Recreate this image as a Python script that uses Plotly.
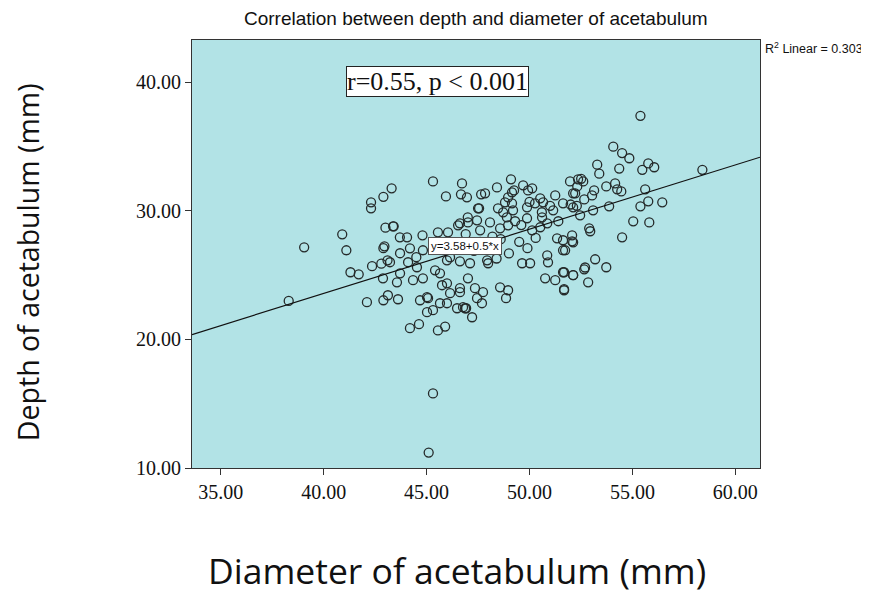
import plotly.graph_objects as go

# Scatter data (diameter mm, depth mm)
diameter = [38.3, 39.05, 40.9, 41.1, 41.3, 41.7, 42.1, 42.35, 42.8, 43.1,
            42.9, 42.95, 42.9, 43.0, 42.3, 42.3, 42.9, 43.3, 43.4, 43.7,
            44.05, 44.8, 45.55, 46.04, 46.62, 47.01, 47.6, 48.08, 48.57, 48.96,
            49.3, 50.13, 50.52, 50.86, 51.34, 51.63, 52.07, 52.12, 51.63, 50.86,
            50.9, 49.64, 50.03, 50.76, 51.25, 51.63, 52.12, 51.68, 43.22, 43.71,
            44.1, 44.19, 44.82, 44.34, 44.53, 44.82, 43.71, 43.56, 45.41, 45.65,
            45.75, 45.99, 45.99, 46.14, 46.62, 46.62, 47.11, 47.01, 47.35, 47.45,
            47.74, 47.99, 47.94, 46.92, 46.77, 47.21, 47.69, 48.57, 48.96, 48.86,
            44.19, 44.63, 45.02, 45.31, 45.07, 45.65, 45.99, 46.14, 46.48, 46.87,
            46.62, 44.68, 45.02, 43.12, 43.61, 42.88, 45.55, 45.9, 45.31, 45.31,
            45.1, 46.72, 45.94, 46.67, 46.96, 47.65, 47.84, 48.42, 49.1, 49.15,
            49.25, 48.96, 49.69, 50.13, 49.93, 50.52, 51.25, 51.97, 52.36, 52.12,
            47.55, 47.0, 48.47, 48.72, 48.81, 49.15, 49.2, 49.88, 50.27, 50.66,
            51.15, 51.63, 52.12, 49.88, 50.61, 47.45, 47.5, 43.37, 46.53, 55.39,
            54.07, 54.5, 54.85, 53.29, 54.36, 55.77, 56.06, 55.48, 58.4, 53.39,
            52.51, 52.61, 54.16, 53.73, 54.26, 54.46, 55.62, 53.14, 53.04, 52.22,
            52.32, 52.66, 52.0, 52.3, 53.87, 55.39, 55.77, 56.45, 53.09, 55.04,
            55.82, 52.46, 52.9, 52.95, 54.5, 52.07, 51.73, 53.19, 53.73, 52.66,
            52.7, 51.68, 52.12, 52.85, 51.68, 48.3, 48.6, 49.5, 49.9, 50.3,
            48.2, 47.6, 46.4, 45.3, 44.5, 49.0, 48.4, 50.6, 51.0, 51.4,
            50.0, 49.6, 48.9, 46.9, 47.3]
depth = [23.0, 27.17, 28.18, 26.94, 25.23, 25.07, 22.9, 25.7, 25.9, 26.16,
         27.1, 27.25, 23.05, 28.7, 30.67, 30.2, 31.1, 31.76, 28.8, 27.95,
         27.95, 28.1, 28.34, 28.34, 29.04, 29.11, 28.49, 29.11, 28.65, 28.88,
         29.2, 28.49, 28.73, 29.04, 27.87, 27.72, 28.1, 27.56, 26.94, 26.55,
         26.0, 25.93, 25.93, 24.76, 24.61, 25.23, 25.0, 23.83, 26.01, 26.71,
         26.01, 27.09, 26.94, 24.61, 25.62, 24.76, 25.15, 24.45, 25.38, 25.15,
         24.22, 24.37, 26.16, 26.39, 23.99, 26.08, 25.93, 24.76, 23.99, 23.21,
         23.68, 25.93, 26.16, 22.43, 22.51, 21.73, 22.82, 24.06, 23.83, 23.21,
         20.88, 21.19, 22.12, 22.28, 23.21, 22.82, 22.82, 23.6, 22.43, 22.43,
         23.68, 23.05, 23.29, 23.44, 23.13, 24.76, 20.7, 21.0, 32.3, 15.8,
         11.2, 32.14, 31.13, 31.29, 31.06, 31.29, 31.37, 31.83, 32.46, 31.45,
         31.6, 31.06, 31.99, 31.76, 31.6, 30.98, 31.21, 32.3, 32.46, 31.37,
         30.2, 29.5, 30.2, 29.89, 30.67, 30.59, 30.05, 30.28, 30.59, 30.67,
         30.05, 30.59, 30.28, 29.43, 29.5, 29.27, 30.2, 28.8, 28.88, 37.4,
         35.0, 34.5, 34.1, 33.6, 33.3, 33.7, 33.4, 33.2, 33.2, 32.9,
         32.5, 32.3, 32.14, 31.91, 31.68, 31.52, 31.68, 31.6, 31.21, 31.37,
         31.91, 30.9, 30.5, 30.4, 30.36, 30.36, 30.75, 30.67, 30.05, 29.19,
         29.11, 29.66, 28.65, 28.42, 27.95, 27.64, 26.94, 26.24, 25.62, 25.46,
         25.6, 25.23, 25.0, 24.45, 23.91, 27.3, 27.8, 27.6, 27.1, 27.9,
         28.0, 27.6, 27.4, 27.0, 26.4, 26.7, 26.3, 29.9, 30.4, 29.2,
         30.7, 28.9, 29.5, 28.2, 26.9]

fit_intercept = 3.58
fit_slope = 0.5
r2_linear = 0.303

x_ticks = [35, 40, 45, 50, 55, 60]
x_tick_labels = ["35.00", "40.00", "45.00", "50.00", "55.00", "60.00"]
y_ticks = [10, 20, 30, 40]
y_tick_labels = ["10.00", "20.00", "30.00", "40.00"]

x_range = [33.6, 61.2]
y_range = [10.0, 43.3]

fig = go.Figure()
fig.add_trace(go.Scatter(
    x=diameter, y=depth, mode="markers",
    marker=dict(symbol="circle-open", size=9, color="#252a2a",
                line=dict(width=1.3, color="#252a2a")),
    showlegend=False, hoverinfo="x+y"))

line_x = x_range
line_y = [fit_intercept + fit_slope * v for v in line_x]
fig.add_trace(go.Scatter(x=line_x, y=line_y, mode="lines",
                         line=dict(color="#111111", width=1.2),
                         showlegend=False, hoverinfo="skip"))

axis_common = dict(showgrid=False, zeroline=False, showline=True,
                   linecolor="#333333", linewidth=1.2, mirror=True,
                   ticks="outside", ticklen=6, tickcolor="#333333",
                   tickfont=dict(family="Liberation Serif", size=20, color="#111111"))

fig.update_xaxes(range=x_range, tickvals=x_ticks, ticktext=x_tick_labels, **axis_common)
fig.update_yaxes(range=y_range, tickvals=y_ticks, ticktext=y_tick_labels, **axis_common)

fig.update_layout(
    width=861, height=586,
    margin=dict(l=184, r=109, t=32, b=126),
    paper_bgcolor="white", plot_bgcolor="#b2e3e6",
    annotations=[
        dict(text="Correlation between depth and diameter of acetabulum",
             xref="paper", yref="paper", x=0.5, y=1.0, yshift=22,
             showarrow=False, xanchor="center", yanchor="middle",
             font=dict(family="Liberation Sans", size=19, color="#111111")),
        dict(text="r=0.55, p < 0.001", xref="x", yref="y", x=45.55, y=40.07,
             showarrow=False, xanchor="center", yanchor="middle",
             bgcolor="white", bordercolor="#222222", borderwidth=1, borderpad=0,
             font=dict(family="Liberation Serif", size=26, color="#111111")),
        dict(text="y=3.58+0.5*x", xref="x", yref="y", x=46.85, y=27.3,
             showarrow=False, xanchor="center", yanchor="middle",
             bgcolor="white", bordercolor="#555555", borderwidth=1, borderpad=2,
             font=dict(family="Liberation Sans", size=11.5, color="#111111")),
        dict(text="R<sup>2</sup> Linear = %.3f" % r2_linear, xref="paper", yref="paper",
             x=1.0, y=1.0, xshift=3, yshift=-8, showarrow=False,
             xanchor="left", yanchor="middle",
             font=dict(family="Liberation Sans", size=12.5, color="#111111")),
        dict(text="Diameter of acetabulum (mm)", xref="paper", yref="paper",
             x=0.467, y=0, yshift=-102, showarrow=False,
             xanchor="center", yanchor="middle",
             font=dict(family="Open Sans", size=35.5, color="#111111")),
        dict(text="Depth of acetabulum (mm)", xref="paper", yref="paper",
             x=0, xshift=-164, y=0.481, textangle=-90, showarrow=False,
             xanchor="center", yanchor="middle",
             font=dict(family="Open Sans", size=28.5, color="#111111")),
    ],
)

fig.write_html("out.html")
